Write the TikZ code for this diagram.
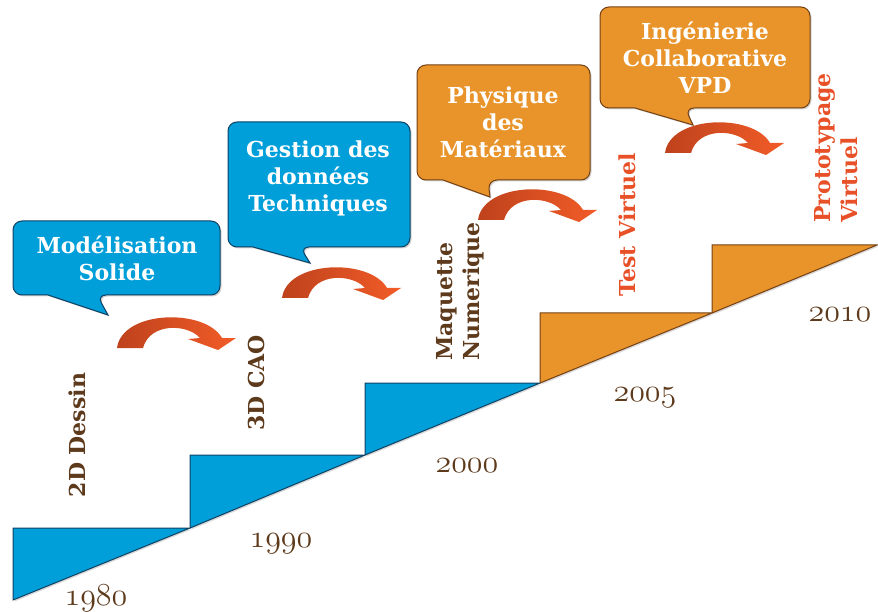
\RequirePackage{fix-cm}
\documentclass[tikz,border=0pt]{standalone}
\usepackage{fontspec}
\setmainfont{DejaVu Serif}
\usetikzlibrary{shadows}

\definecolor{stepblue}{RGB}{0,159,218}
\definecolor{edgeblue}{RGB}{14,66,100}
\definecolor{steporange}{RGB}{232,148,42}
\definecolor{edgeorange}{RGB}{118,64,18}
\definecolor{yearbrown}{RGB}{94,58,28}
\definecolor{labelred}{RGB}{232,80,40}
\definecolor{arrowdark}{RGB}{190,66,28}
\definecolor{arrowlight}{RGB}{242,92,40}

\tikzset{
	bubble/.style={line width=1pt, drop shadow={opacity=0.35, shadow xshift=1.5pt, shadow yshift=-1.5pt}},
	bubbletext/.style={text=white, align=center, inner sep=0pt, font=\fontsize{22}{27}\selectfont\bfseries},
	stepshape/.style={line width=1pt, drop shadow={opacity=0.3, shadow xshift=1.5pt, shadow yshift=-1.5pt}},
	vlabel/.style={rotate=90, align=left, inner sep=0pt, font=\fontsize{22}{27}\selectfont\bfseries},
	year/.style={text=yearbrown, inner sep=0pt, font=\fontsize{32}{36}\usefont{OML}{cmm}{m}{it}},
	bendarrow/.pic={
		\shade[left color=arrowdark, right color=arrowlight]
			(0,0) .. controls (5,-38) and (88,-40) .. (105,-10) -- (119,-10) -- (101,2)
			-- (71,-9) -- (83,-10) .. controls (71,-24) and (33,-26) .. (26,0) -- cycle;
	}
}

\begin{document}
\begin{tikzpicture}[x=1pt, y=-1pt]
	\useasboundingbox (0,0) rectangle (878,612);
	
	% steps
	\foreach \xl/\xr/\yt/\yb/\fc/\ec in {13/190/528/600/stepblue/edgeblue, 190/365/455/528/stepblue/edgeblue,
		365/540/383/455/stepblue/edgeblue, 540/712/313/383/steporange/edgeorange, 712/877/245/313/steporange/edgeorange}
		\draw[stepshape, fill=\fc, draw=\ec] (\xl,\yb) -- (\xl,\yt) -- (\xr,\yt) -- cycle;
	
	% years
	\node[year] (y1980) at (96,598) {1980};
	\node[year] (y1990) at (281,544) {1990};
	\node[year] (y2000) at (467,466) {2000};
	\node[year] (y2005) at (645,398) {2005};
	\node[year] (y2010) at (840,315) {2010};
	
	% vertical labels
	\node[vlabel, text=yearbrown] (dessin) at (77,435) {2D Dessin};
	\node[vlabel, text=yearbrown] (cao) at (256,383) {3D CAO};
	\node[vlabel, text=yearbrown, anchor=west] (maquette) at (460,361) {Maquette\\Numerique};
	\node[vlabel, text=labelred] (test) at (627,225) {Test Virtuel};
	\node[vlabel, text=labelred, anchor=west] (proto) at (836,223) {Prototypage\\Virtuel};
	
	% callouts
	\draw[bubble, fill=stepblue, draw=edgeblue] (48,295) [rounded corners=9pt] -- (13,295) -- (13,221)
		-- (220,221) -- (220,295) -- (97,295) [sharp corners] -- (108,315) -- cycle;
	\draw[bubble, fill=stepblue, draw=edgeblue] (253,247) [rounded corners=9pt] -- (228,247) -- (228,122)
		-- (410,122) -- (410,247) -- (300,247) [sharp corners] -- (310,263) -- cycle;
	\draw[bubble, fill=steporange, draw=edgeorange] (443,180) [rounded corners=9pt] -- (417,180) -- (417,65)
		-- (590,65) -- (590,180) -- (488,180) [sharp corners] -- (490,197) -- cycle;
	\draw[bubble, fill=steporange, draw=edgeorange] (635,108) [rounded corners=9pt] -- (600,108) -- (600,7)
		-- (810,7) -- (810,108) -- (685,108) [sharp corners] -- (693,125) -- cycle;
	
	\node[bubbletext] (modelisation) at (117,258) {Modélisation\\Solide};
	\node[bubbletext] (gestion) at (318,178) {Gestion des\\données\\Techniques};
	\node[bubbletext] (physique) at (503,122) {Physique\\des\\Matériaux};
	\node[bubbletext] (ingenierie) at (705,58) {Ingénierie\\Collaborative\\VPD};
	
	% bent arrows
	\pic at (117,348) {bendarrow};
	\pic at (282,298) {bendarrow};
	\pic at (478,220) {bendarrow};
	\pic at (665,153) {bendarrow};
\end{tikzpicture}
\end{document}
